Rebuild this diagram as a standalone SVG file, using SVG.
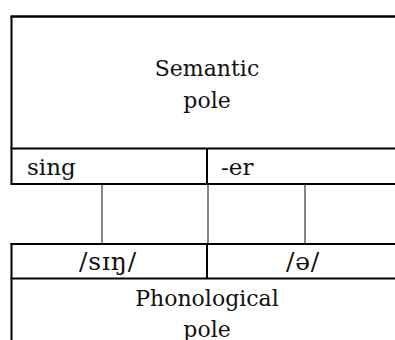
<svg xmlns="http://www.w3.org/2000/svg" width="395" height="340" viewBox="0 0 395 340">
<style>
.box{fill:none;stroke:#000;stroke-width:2}
.cell{stroke:#000;stroke-width:2}
.link{stroke:#333;stroke-width:1.2}
text{font-family:"DejaVu Serif","Liberation Serif",serif;font-size:22px;fill:#111}
.c{text-anchor:middle}
.ph{font-size:25px;letter-spacing:0.8px}
</style>
<rect width="395" height="340" fill="#fff"/>
<g id="semantic-pole">
<line class="box" x1="10.5" y1="16.5" x2="395" y2="16.5" style="stroke-width:2.5"/>
<line class="box" x1="11.5" y1="16" x2="11.5" y2="184.5"/>
<line class="box" x1="10.5" y1="148.5" x2="395" y2="148.5"/>
<line class="box" x1="10.5" y1="184" x2="395" y2="184"/>
<text class="c" x="207" y="76">Semantic</text>
<text class="c" x="207" y="108">pole</text>
</g>
<g id="sem-sing">
<text x="27" y="175" style="font-size:23px">sing</text>
</g>
<g id="sem-er">
<line class="cell" x1="207" y1="148.5" x2="207" y2="184"/>
<text x="221" y="175" style="font-size:23px">-er</text>
</g>
<g id="connectors">
<line class="link" x1="102" y1="184" x2="102" y2="244"/>
<line class="link" x1="208" y1="184" x2="208" y2="244"/>
<line class="link" x1="305" y1="184" x2="305" y2="244"/>
</g>
<g id="phonological-pole">
<line class="box" x1="10.5" y1="244" x2="395" y2="244"/>
<line class="box" x1="11.5" y1="243" x2="11.5" y2="340"/>
<line class="box" x1="10.5" y1="278.5" x2="395" y2="278.5"/>
<text class="c" x="207" y="306">Phonological</text>
<text class="c" x="207" y="337">pole</text>
</g>
<g id="pho-sing">
<text class="c ph" x="108" y="270">/sɪŋ/</text>
</g>
<g id="pho-er">
<line class="cell" x1="207" y1="244" x2="207" y2="278.5"/>
<text class="c ph" x="303" y="270">/ə/</text>
</g>
</svg>
